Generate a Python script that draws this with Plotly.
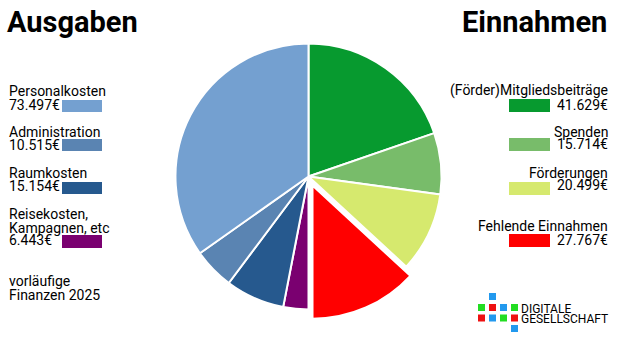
import plotly.graph_objects as go

W, H = 620, 349

# ---- data ----
expense_labels = ["Personalkosten", "Administration", "Raumkosten", "Reisekosten, Kampagnen, etc"]
expense_values = [73497, 10515, 15154, 6443]
expense_colors = ["#74A0D0", "#5A84B2", "#26598E", "#7A0070"]
expense_text = ["73.497€", "10.515€", "15.154€", "6.443€"]

income_labels = ["(Förder)Mitgliedsbeiträge", "Spenden", "Förderungen", "Fehlende Einnahmen"]
income_values = [41629, 15714, 20499, 27767]
income_colors = ["#079A2F", "#78BC6A", "#D6E96E", "#FF0000"]
income_text = ["41.629€", "15.714€", "20.499€", "27.767€"]
income_pull = [0, 0, 0, 0.075]

# pie order clockwise from 12 o'clock: income, then expenses reversed
pie_labels = income_labels + expense_labels[::-1]
pie_values = income_values + expense_values[::-1]
pie_colors = income_colors + expense_colors[::-1]
pie_pull = income_pull + [0] * len(expense_values)

FONT = "Roboto"


def px(x):
    return x / W


def py(y):
    return 1 - y / H


fig = go.Figure()
fig.add_trace(go.Pie(
    labels=pie_labels, values=pie_values, sort=False, direction="clockwise",
    rotation=0, pull=pie_pull, textinfo="none", showlegend=False,
    marker=dict(colors=pie_colors, line=dict(color="white", width=2)),
    domain=dict(x=[px(308.5 - 143), px(308.5 + 143)], y=[py(176.5 + 143), py(176.5 - 143)]),
))

ann = []
shapes = []


def text(x, y, s, anchor="left", size=14, bold=False):
    ann.append(dict(x=px(x), y=py(y), xref="paper", yref="paper", text=("<b>%s</b>" % s) if bold else s,
                    showarrow=False, xanchor=anchor, yanchor="middle", borderpad=0,
                    font=dict(family=FONT, size=size, color="#000000")))


def rect(x0, y0, x1, y1, color):
    shapes.append(dict(type="rect", xref="paper", yref="paper", x0=px(x0), x1=px(x1), y0=py(y1), y1=py(y0),
                       fillcolor=color, line=dict(width=0)))


# titles
text(6, 22, "Ausgaben", "left", 29, True)
text(608, 22, "Einnahmen", "right", 29, True)

# left legend
left_rows = [
    ([90], 104.5, (100, 112)),
    ([131], 144.5, (139, 151)),
    ([172], 185.5, (182, 194)),
    ([213, 227], 239, (235, 248)),
]
name_lines = [["Personalkosten"], ["Administration"], ["Raumkosten"], ["Reisekosten,", "Kampagnen, etc"]]
for i, (ys, yv, (s0, s1)) in enumerate(left_rows):
    for ln, yy in zip(name_lines[i], ys):
        text(8, yy + 0.5, ln)
    text(8, yv + 0.5, expense_text[i])
    rect(62, s0, 102, s1, expense_colors[i])

text(8, 281, "vorläufige")
text(8, 294.5, "Finanzen 2025")

# right legend
right_rows = [(90, 104.5, (99, 112)), (131, 144, (138, 151)), (172, 184.5, (182, 195)), (225.5, 239.5, (234, 247))]
for i, (yn, yv, (s0, s1)) in enumerate(right_rows):
    text(609, yn + 0.5, income_labels[i], "right")
    text(609, yv + 0.5, income_text[i], "right")
    rect(509, s0, 550, s1, income_colors[i])

# logo
G, R, B = "#22DD22", "#EE1111", "#2299EE"
cells = [
    (489, 293, B),
    (478, 304, G), (489, 304, R), (500, 304, B), (511, 304, G),
    (478, 314.5, R), (489, 314.5, B), (500, 314.5, G), (511, 314.5, R),
    (511, 325, B),
]
for x, y, c in cells:
    rect(x, y, x + 7, y + 7, c)
text(520, 308.5, "DIGITALE", "left", 12)
text(520, 319, "GESELLSCHAFT", "left", 12)

fig.update_layout(
    width=W, height=H, margin=dict(l=0, r=0, t=0, b=0),
    paper_bgcolor="white", plot_bgcolor="white",
    annotations=ann, shapes=shapes, showlegend=False,
)
fig.write_html("out.html")
